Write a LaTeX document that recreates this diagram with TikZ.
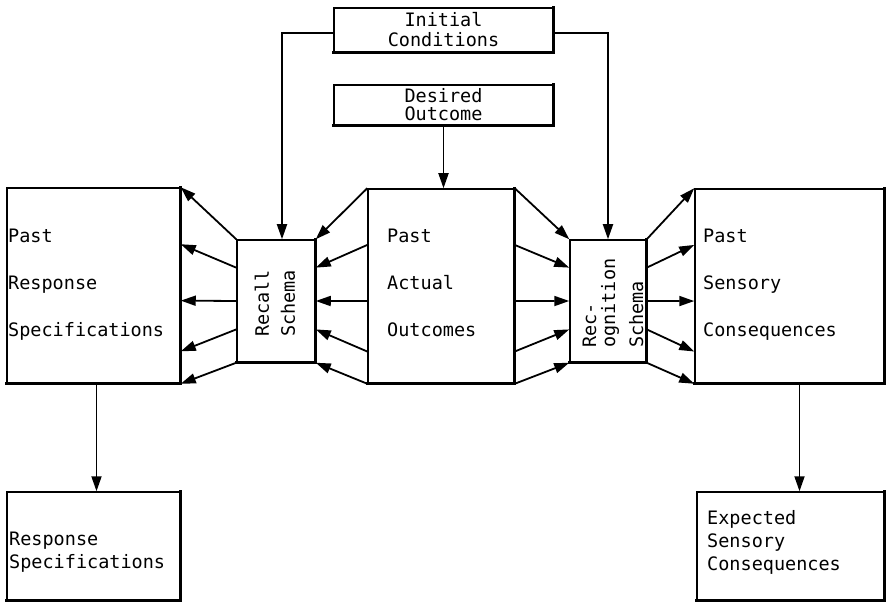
\documentclass[tikz,border=0pt]{standalone}
\usepackage{fontspec}
\setmonofont{DejaVu Sans Mono}
\usetikzlibrary{arrows.meta,calc}
\begin{document}
\begin{tikzpicture}[x=1pt,y=-1pt,
  box/.style={draw, line width=1.5pt, inner sep=0pt},
  heavy/.style={line width=2.8pt, line cap=rect},
  arr/.style={line width=1.8pt, -{Triangle[length=15pt,width=10pt]}},
  txt/.style={font=\ttfamily\fontsize{18.5}{47}\selectfont, inner sep=0pt, align=left},
  small/.style={font=\ttfamily\fontsize{18.5}{23}\selectfont, inner sep=0pt, align=left}
]
\useasboundingbox (0,0) rectangle (889,604);

% boxes
\node[box, minimum width=219pt, minimum height=44pt, align=center,
      font=\ttfamily\fontsize{18.5}{20}\selectfont] (ic) at (443.5,30) {Initial\\Conditions};
\node[box, minimum width=219pt, minimum height=40pt, align=center,
      font=\ttfamily\fontsize{18.5}{18}\selectfont] (do) at (443.5,105) {Desired\\Outcome};
\node[box, minimum width=173pt, minimum height=195pt] (prs) at (93.5,285.5) {};
\node[box, minimum width=78pt, minimum height=122pt] (recall) at (276,301) {};
\node[box, minimum width=146pt, minimum height=194pt] (pao) at (441,286) {};
\node[box, minimum width=76pt, minimum height=122pt] (recog) at (608,301) {};
\node[box, minimum width=189pt, minimum height=194pt] (psc) at (789.5,286) {};
\node[box, minimum width=173pt, minimum height=108pt] (rs) at (93.5,546) {};
\node[box, minimum width=187pt, minimum height=108pt] (esc) at (790.5,546) {};

% heavier right and bottom edges
\foreach \n in {ic,do,prs,recall,pao,recog,psc,rs,esc}
  \draw[heavy] (\n.north east) -- (\n.south east) -- (\n.south west);

% texts inside the large boxes
\node[txt, anchor=north west] (prsT) at (8,229) {Past\\Response\\Specifications};
\node[txt, anchor=north west] (paoT) at (387,229) {Past\\Actual\\Outcomes};
\node[txt, anchor=north west] (pscT) at (703,229) {Past\\Sensory\\Consequences};
\node[small, anchor=north west] (rsT) at (9,532) {Response\\Specifications};
\node[small, anchor=north west] (escT) at (707,510) {Expected\\Sensory\\Consequences};

% rotated schema labels
\node[rotate=90, anchor=west, inner sep=0pt, align=left,
      font=\ttfamily\fontsize{18.5}{26}\selectfont] (recallT) at (275,337) {Recall\\Schema};
\node[rotate=90, anchor=west, inner sep=0pt, align=left,
      font=\ttfamily\fontsize{18.5}{28}\selectfont] (recogT) at (613,348) {Rec-\\[-9pt]ognition\\Schema};

% inputs from the top
\draw[arr] ([yshift=-3pt]ic.west) -| ([xshift=6pt]recall.north);
\draw[arr] ([yshift=-3pt]ic.east) -| (recog.north);
\draw[arr] (do.south) -- (do.south |- pao.north);

% fans between the central boxes
\foreach \b/\s in {0/0, 0.29/0.23, 0.577/0.5, 0.835/0.73, 1/1} {
  \draw[arr] ($(pao.north west)!\b!(pao.south west)$) -- ($(recall.north east)!\s!(recall.south east)$);
  \draw[arr] ($(recall.north west)!\s!(recall.south west)$) -- ($(prs.north east)!\b!(prs.south east)$);
  \draw[arr] ($(pao.north east)!\b!(pao.south east)$) -- ($(recog.north west)!\s!(recog.south west)$);
  \draw[arr] ($(recog.north east)!\s!(recog.south east)$) -- ($(psc.north west)!\b!(psc.south west)$);
}

% outputs
\draw[arr] ([xshift=3pt]prs.south) -- ([xshift=3pt]prs.south |- rs.north);
\draw[arr] ([xshift=10pt]psc.south) -- ([xshift=10pt]psc.south |- esc.north);
\end{tikzpicture}
\end{document}
